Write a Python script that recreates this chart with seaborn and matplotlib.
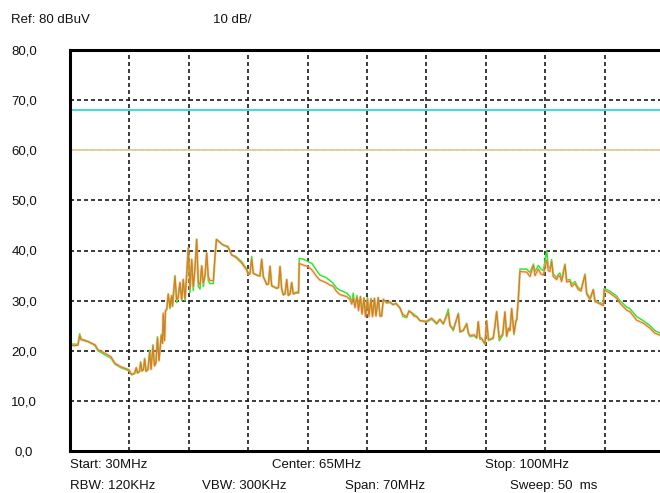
# spectrum analyzer style plot: two overlaid traces with limit lines
import numpy as np
import pandas as pd
import matplotlib
matplotlib.use("Agg")
import matplotlib.pyplot as plt
import seaborn as sns

# DATA
freq_mhz = [
    30.00, 30.47, 30.94, 31.14, 31.30, 32.12, 32.95, 33.30, 34.12, 34.83,
    35.30, 36.01, 36.95, 37.25, 37.60, 37.81, 37.95, 38.19, 38.33, 38.48,
    38.66, 38.80, 38.96, 39.19, 39.39, 39.55, 39.78, 39.96, 40.13, 40.31,
    40.49, 40.57, 40.76, 40.90, 40.99, 41.14, 41.25, 41.40, 41.58, 41.78,
    41.98, 42.08, 42.37, 42.57, 42.73, 42.96, 43.16, 43.35, 43.55, 43.73,
    43.94, 44.14, 44.34, 44.53, 44.73, 44.93, 45.12, 45.32, 45.52, 45.71,
    45.91, 46.11, 46.30, 46.50, 46.89, 47.09, 47.26, 48.03, 48.62, 49.06,
    49.56, 50.23, 50.82, 51.01, 51.21, 51.41, 51.60, 52.15, 52.39, 52.59,
    52.78, 53.18, 53.39, 53.57, 53.77, 54.36, 54.57, 54.75, 54.95, 55.14,
    55.34, 55.54, 55.72, 55.93, 56.13, 56.31, 56.71, 56.93, 57.02, 57.46,
    58.05, 58.52, 59.07, 59.46, 60.17, 60.64, 60.99, 61.43, 61.82, 62.61,
    63.00, 63.20, 63.38, 63.58, 63.82, 64.00, 64.23, 64.41, 64.65, 64.82,
    65.06, 65.23, 65.47, 65.65, 65.88, 66.06, 66.33, 66.53, 66.73, 66.92,
    67.32, 67.71, 68.06, 68.42, 68.89, 69.24, 69.68, 69.95, 70.27, 70.54,
    70.86, 71.24, 72.03, 72.62, 73.21, 73.60, 73.99, 74.58, 74.78, 75.17,
    75.76, 75.96, 76.35, 76.75, 76.96, 77.14, 77.61, 77.93, 78.11, 78.31,
    78.51, 78.90, 79.10, 79.32, 79.49, 79.88, 80.08, 80.28, 80.59, 80.99,
    81.26, 81.46, 81.67, 81.85, 82.05, 82.32, 82.56, 82.65, 82.83, 83.03,
    83.82, 84.21, 84.60, 84.80, 85.19, 85.50, 85.78, 86.18, 86.36, 86.56,
    86.76, 86.95, 87.35, 87.57, 87.74, 87.94, 88.33, 88.53, 88.92, 89.12,
    89.51, 89.90, 90.22, 90.69, 90.89, 91.28, 91.67, 91.87, 92.26, 92.85,
    92.95, 93.63, 94.42, 94.81, 95.60, 95.99, 96.78, 97.56, 98.35, 98.94,
    99.53, 100.00,
]

peak_dbuv = [
    21.2, 21.0, 21.1, 23.0, 22.2, 21.8, 21.2, 20.2, 19.5, 18.8,
    17.5, 16.8, 16.2, 15.3, 15.5, 16.6, 15.6, 15.9, 17.6, 16.0,
    16.3, 18.3, 15.9, 16.3, 19.7, 16.3, 21.0, 17.0, 17.6, 22.5,
    18.0, 19.5, 23.0, 21.5, 27.5, 22.0, 28.0, 28.3, 31.2, 28.6,
    31.0, 29.0, 34.8, 30.2, 30.5, 33.6, 30.2, 34.2, 30.4, 34.5,
    40.5, 32.3, 38.2, 32.8, 36.5, 42.2, 33.6, 33.2, 36.9, 33.6,
    35.0, 39.5, 34.8, 34.0, 34.0, 38.8, 42.2, 41.1, 40.8, 39.1,
    38.6, 37.5, 36.1, 35.2, 35.4, 38.3, 35.4, 35.0, 34.9, 38.2,
    34.8, 33.2, 33.3, 36.8, 33.0, 32.5, 32.6, 36.8, 32.3, 31.2,
    31.3, 34.2, 31.1, 31.3, 33.6, 31.4, 31.7, 31.6, 37.4, 37.1,
    36.8, 36.1, 34.8, 34.1, 33.6, 33.1, 32.9, 31.8, 31.2, 30.8,
    30.2, 29.3, 30.5, 28.6, 30.7, 28.0, 30.8, 27.3, 30.5, 26.8,
    30.2, 26.8, 30.4, 26.8, 30.4, 26.9, 30.6, 26.9, 26.9, 30.3,
    29.6, 29.8, 29.2, 29.4, 28.5, 27.2, 26.8, 28.0, 27.5, 26.9,
    26.8, 26.0, 25.9, 26.5, 25.5, 26.3, 25.4, 27.6, 25.1, 24.3,
    27.3, 23.8, 24.1, 25.3, 23.5, 23.0, 23.2, 22.6, 25.8, 22.6,
    22.5, 21.4, 26.0, 22.2, 22.3, 22.6, 25.0, 27.8, 22.5, 23.3,
    27.8, 23.0, 24.5, 24.0, 28.4, 23.5, 26.0, 26.2, 30.2, 35.8,
    35.7, 34.8, 37.0, 35.0, 36.3, 35.3, 35.1, 38.1, 36.0, 35.8,
    37.8, 34.8, 34.2, 35.0, 34.8, 33.8, 37.1, 33.7, 33.9, 32.8,
    33.4, 32.2, 31.9, 35.1, 31.3, 30.2, 32.2, 29.8, 29.5, 29.0,
    32.1, 31.5, 30.5, 29.5, 28.1, 27.8, 26.1, 25.5, 24.5, 23.5,
    23.1, 22.9,
]

maxhold_dbuv = [
    21.4, 21.3, 21.3, 23.4, 22.4, 21.9, 21.0, 20.0, 19.2, 18.5,
    17.3, 16.6, 16.0, 15.2, 15.4, 16.6, 15.5, 15.8, 17.8, 15.9,
    16.2, 18.5, 15.9, 16.2, 20.1, 16.4, 21.2, 17.0, 17.6, 22.8,
    18.2, 19.5, 23.3, 21.5, 27.0, 22.3, 28.0, 28.2, 31.4, 28.4,
    31.0, 28.8, 35.0, 29.6, 30.5, 33.6, 30.0, 34.2, 30.0, 34.5,
    40.5, 31.6, 38.2, 32.0, 36.5, 42.2, 32.8, 32.3, 37.0, 32.8,
    35.0, 39.5, 34.0, 33.4, 33.4, 38.8, 42.2, 41.1, 40.6, 39.1,
    38.8, 37.8, 36.3, 35.3, 35.3, 38.8, 35.5, 35.0, 34.9, 38.3,
    34.8, 33.3, 33.3, 36.9, 32.9, 32.4, 32.6, 36.8, 32.2, 31.1,
    31.3, 34.2, 31.0, 31.3, 33.6, 31.3, 31.5, 31.5, 38.4, 38.3,
    37.8, 37.4, 36.0, 35.1, 34.6, 34.0, 33.5, 32.5, 32.1, 31.5,
    30.8, 29.6, 31.5, 29.0, 31.0, 28.5, 30.8, 27.5, 30.6, 27.2,
    30.6, 27.3, 30.3, 27.0, 30.5, 27.1, 30.6, 27.0, 27.0, 30.2,
    29.5, 29.6, 29.2, 29.5, 28.6, 26.8, 26.6, 27.8, 27.6, 27.3,
    26.8, 26.0, 25.7, 26.3, 25.3, 26.2, 25.3, 28.3, 25.0, 24.0,
    27.5, 23.7, 24.0, 25.5, 23.4, 22.8, 23.0, 22.5, 25.8, 22.3,
    22.3, 21.3, 26.0, 22.0, 22.2, 22.4, 25.0, 27.8, 22.0, 23.0,
    27.6, 22.8, 24.5, 24.1, 28.4, 23.2, 26.0, 26.2, 30.2, 36.3,
    36.3, 35.6, 37.3, 35.8, 37.0, 36.3, 36.0, 40.0, 36.8, 36.4,
    38.2, 35.3, 34.6, 35.3, 35.5, 34.2, 37.3, 34.1, 34.2, 33.3,
    33.8, 32.6, 32.2, 35.3, 31.6, 30.5, 32.2, 30.1, 29.7, 29.3,
    32.4, 31.9, 30.9, 30.0, 28.7, 28.4, 26.8, 26.0, 25.0, 24.0,
    23.5, 23.3,
]

limit_levels = [68.0, 60.0]
limit_colors = ["#3FDCD6", "#E6CFA0"]

ytick_values = [0, 10, 20, 30, 40, 50, 60, 70, 80]
ytick_labels = ["0,0", "10,0", "20,0", "30,0", "40,0", "50,0", "60,0", "70,0", "80,0"]
xgrid_values = [37, 44, 51, 58, 65, 72, 79, 86, 93]

header_texts = ["Ref: 80 dBuV", "10 dB/"]
footer_row1 = ["Start: 30MHz", "Center: 65MHz", "Stop: 100MHz"]
footer_row2 = ["RBW: 120KHz", "VBW: 300KHz", "Span: 70MHz", "Sweep: 50  ms"]


def make_plot():
    sns.set_style("white")
    plt.rcParams["font.family"] = ["Liberation Sans", "DejaVu Sans"]
    W, H = 660, 493
    fig = plt.figure(figsize=(W / 100, H / 100), dpi=100)
    ax = fig.add_axes([70 / W, 42 / H, 590 / W, 401 / H])

    df = pd.DataFrame({"freq": freq_mhz, "peak": peak_dbuv, "maxhold": maxhold_dbuv})

    # grid (dashed) drawn by hand-picked tick positions
    grid_style = dict(color="#1a1a1a", lw=1.2, ls=(0, (2.4, 1.8)), zorder=1)
    for xv in xgrid_values:
        ax.axvline(xv, **grid_style)
    for yv in ytick_values[1:-1]:
        ax.axhline(yv, **grid_style)

    for lvl, col in zip(limit_levels, limit_colors):
        ax.axhline(lvl, color=col, lw=1.4, zorder=2)

    sns.lineplot(data=df, x="freq", y="maxhold", ax=ax, color="#2BEA2B",
                 lw=1.1, sort=False, estimator=None, zorder=3)
    sns.lineplot(data=df, x="freq", y="peak", ax=ax, color="#F2B27E",
                 lw=2.0, alpha=0.5, sort=False, estimator=None, zorder=4)
    sns.lineplot(data=df, x="freq", y="peak", ax=ax, color="#E4761C",
                 lw=0.8, sort=False, estimator=None, zorder=5)

    ax.set_xlim(30, 99.53)
    ax.set_ylim(0, 80)
    ax.set_xlabel("")
    ax.set_ylabel("")
    ax.set_xticks([])
    ax.set_yticks(ytick_values)
    ax.set_yticklabels(ytick_labels, fontsize=9.5, color="#111111")
    ax.tick_params(axis="y", length=0, pad=33)
    for lab in ax.get_yticklabels():
        lab.set_horizontalalignment("center")

    for side in ["left", "top", "bottom"]:
        ax.spines[side].set_visible(True)
        ax.spines[side].set_color("black")
        ax.spines[side].set_linewidth(2.2)
        ax.spines[side].set_zorder(6)
    ax.spines["right"].set_visible(False)

    def put(txt, x, y):
        fig.text(x / W, 1 - y / H, txt, ha="left", va="center",
                 fontsize=9.5, color="#111111")

    put(header_texts[0], 11, 20)
    put(header_texts[1], 213, 20)
    for txt, x in zip(footer_row1, [70, 272, 485]):
        put(txt, x, 465)
    for txt, x in zip(footer_row2, [70, 202, 345, 510]):
        put(txt, x, 486)

    fig.savefig("out.png", dpi=100)


def main():
    make_plot()


if __name__ == "__main__":
    main()
